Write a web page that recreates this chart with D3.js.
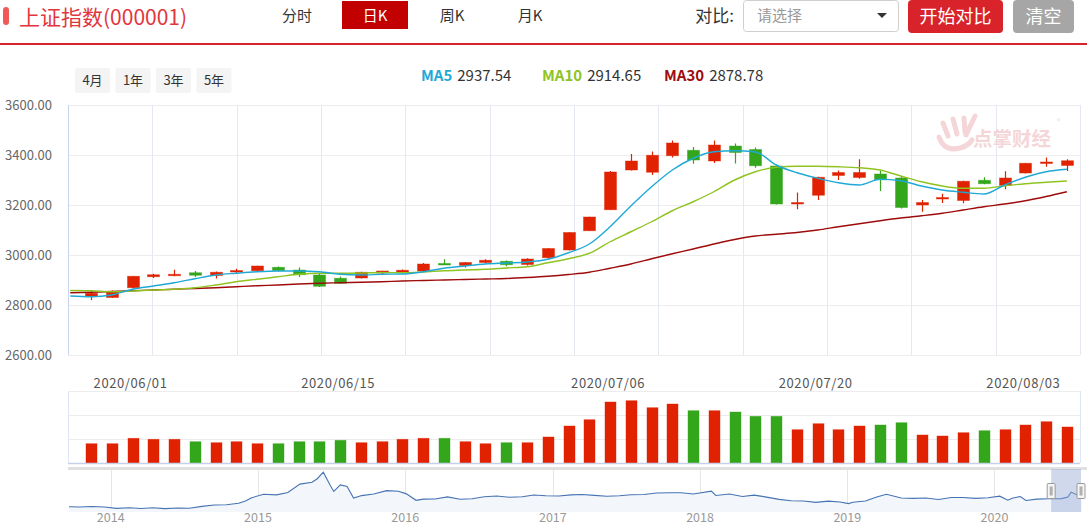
<!DOCTYPE html>
<html>
<head>
<meta charset="utf-8">
<script src="https://cdn.jsdelivr.net/npm/d3@7"></script>
<style>
body { margin: 0; background: #fff; }
svg { display: block; font-family: "Noto Sans CJK SC", "Noto Sans", sans-serif; }
</style>
</head>
<body>
<svg id="chart" width="1087" height="526"></svg>
<script>
// daily candles, 2020/05/28 - 2020/08/05
var dates = ['2020/05/28','2020/05/29','2020/06/01','2020/06/02','2020/06/03','2020/06/04','2020/06/05',
    '2020/06/08','2020/06/09','2020/06/10','2020/06/11','2020/06/12','2020/06/15','2020/06/16','2020/06/17',
    '2020/06/18','2020/06/19','2020/06/22','2020/06/23','2020/06/24','2020/06/29','2020/06/30','2020/07/01',
    '2020/07/02','2020/07/03','2020/07/06','2020/07/07','2020/07/08','2020/07/09','2020/07/10','2020/07/13',
    '2020/07/14','2020/07/15','2020/07/16','2020/07/17','2020/07/20','2020/07/21','2020/07/22','2020/07/23',
    '2020/07/24','2020/07/27','2020/07/28','2020/07/29','2020/07/30','2020/07/31','2020/08/03','2020/08/04',
    '2020/08/05'];
var opens  = [2836,2830,2869,2913,2917,2929,2918,2932,2937,2951,2940,2920,2907,2908,2928,2930,2936,2966,
    2958,2970,2975,2962,2989,3020,3097,3181,3340,3331,3397,3419,3376,3436,3422,3356,3206,3239,3318,3310,
    3324,3308,3200,3224,3218,3299,3278,3328,3368,3358];
var closes = [2847,2852,2915,2921,2923,2919,2931,2938,2956,2938,2921,2875,2887,2931,2936,2939,2964,2965,
    2970,2979,2961,2984,3026,3090,3152,3332,3376,3399,3448,3380,3440,3410,3357,3204,3210,3311,3330,3330,
    3301,3190,3210,3230,3295,3285,3308,3367,3372,3377];
var highs  = [2860,2858,2916,2925,2941,2936,2934,2945,2957,2954,2950,2924,2914,2933,2937,2942,2968,2983,
    2972,2983,2978,2987,3027,3091,3153,3336,3404,3414,3458,3432,3458,3446,3430,3362,3250,3313,3338,3383,
    3336,3312,3220,3245,3297,3311,3335,3368,3390,3383];
var lows   = [2820,2828,2866,2908,2915,2912,2906,2927,2934,2934,2912,2872,2885,2906,2921,2926,2935,2963,
    2950,2966,2955,2958,2985,3018,3096,3180,3338,3320,3390,3365,3368,3366,3349,3202,3183,3220,3300,3305,
    3256,3186,3173,3208,3207,3283,3263,3326,3353,3336];
// volume, 亿股
var volumes = [1.93,1.93,2.47,2.37,2.37,2.13,2.03,2.13,1.93,1.93,2.13,2.13,2.27,2.03,2.13,2.37,2.47,2.47,
    2.13,1.93,2.03,2.03,2.60,3.70,4.33,6.10,6.23,5.53,5.90,5.23,5.23,5.10,4.67,4.67,3.33,3.93,3.33,3.70,
    3.80,4.03,2.80,2.70,3.03,3.23,3.33,3.80,4.13,3.60];

// moving averages; first value belongs to 2020/05/27, just left of the window
var leadDate = '2020/05/27';
var ma5  = [2836,2833,2840,2863,2876,2889,2905,2920,2927,2933,2936,2936,2933,2923,2920,2923,2924,2933,2947,
    2956,2964,2968,2972,2983,3009,3044,3113,3196,3273,3340,3387,3413,3417,3412,3360,3329,3307,3289,3280,
    3303,3297,3276,3260,3251,3244,3280,3311,3333,3343];
var ma10 = [2858,2857,2853,2856,2860,2863,2869,2880,2893,2903,2913,2923,2927,2927,2928,2930,2929,2932,2937,
    2940,2943,2948,2953,2969,2985,3007,3053,3093,3133,3177,3213,3253,3300,3333,3351,3355,3355,3353,3349,
    3340,3316,3293,3276,3267,3267,3277,3285,3291,3296];
var ma30 = [2849,2851,2854,2857,2860,2863,2866,2869,2873,2877,2880,2884,2887,2889,2891,2893,2896,2898,2900,
    2902,2904,2906,2910,2915,2922,2931,2947,2964,2985,3005,3024,3044,3062,3076,3083,3090,3100,3113,3125,
    3137,3148,3157,3167,3180,3193,3204,3217,3234,3253];

var priceTicks = [2600, 2800, 3000, 3200, 3400, 3600];
var volTicks = [2.4, 4.8, 7.2];
var dateLabels = ['2020/06/01', '2020/06/15', '2020/07/06', '2020/07/20', '2020/08/03'];
var legend = [
    {name: 'MA5', value: '2937.54', color: '#1fa9d6'},
    {name: 'MA10', value: '2914.65', color: '#8fc31f'},
    {name: 'MA30', value: '2878.78', color: '#9e0b0b'}
];

// overview line for the navigator (index level)
var navDates = ['2013-09-17','2013-10-15','2013-11-15','2013-12-16','2014-01-15','2014-02-17','2014-03-17',
    '2014-04-15','2014-05-15','2014-06-16','2014-07-15','2014-08-15','2014-09-15','2014-10-15','2014-11-14',
    '2014-12-01','2014-12-15','2015-01-15','2015-02-16','2015-03-16','2015-04-15','2015-05-15','2015-05-28',
    '2015-06-12','2015-06-29','2015-07-08','2015-07-24','2015-08-10','2015-08-26','2015-09-15','2015-10-15',
    '2015-11-16','2015-12-15','2016-01-04','2016-01-28','2016-02-15','2016-03-15','2016-04-15','2016-05-16',
    '2016-06-15','2016-07-15','2016-08-15','2016-09-15','2016-10-17','2016-11-15','2016-12-15','2017-01-16',
    '2017-02-15','2017-03-15','2017-04-14','2017-05-15','2017-06-15','2017-07-14','2017-08-15','2017-09-15',
    '2017-10-16','2017-11-15','2017-12-15','2018-01-29','2018-02-09','2018-03-15','2018-04-16','2018-05-15',
    '2018-06-15','2018-07-16','2018-08-15','2018-09-14','2018-10-15','2018-11-15','2018-12-14','2019-01-04',
    '2019-01-15','2019-02-15','2019-03-15','2019-04-08','2019-05-15','2019-06-14','2019-07-15','2019-08-15',
    '2019-09-16','2019-10-15','2019-11-15','2019-12-16','2020-01-14','2020-02-03','2020-02-14','2020-03-05',
    '2020-03-19','2020-04-15','2020-05-15','2020-06-15','2020-07-01','2020-07-09','2020-07-24','2020-08-05'];
var navValues = [2190,2160,2200,2160,2040,2100,2030,2100,2020,2070,2060,2220,2330,2360,2480,2680,2950,3270,3210,
    3420,4140,4300,4610,5170,4050,3510,4070,3930,2930,3150,3290,3580,3520,3300,2740,2840,2860,3040,2830,2880,
    3050,3120,3010,3050,3200,3140,3110,3210,3240,3170,3090,3130,3220,3250,3370,3390,3400,3290,3530,3160,3290,
    3070,3190,3020,2820,2700,2680,2560,2670,2590,2460,2570,2680,3020,3260,2940,2910,2940,2810,2980,2990,2910,
    2960,3100,2750,2920,3070,2730,2840,2880,2890,3020,3450,3200,3378];
var yearTicks = ['2014', '2015', '2016', '2017', '2018', '2019', '2020'];

var red = '#e02200', green = '#33a61b';
var svg = d3.select('#chart');
var plot = {left: 68, right: 1080, top: 105, bottom: 355};
var vol = {top: 391, bottom: 463};
var nav = {top: 469, bottom: 512};

// ---------- header ----------
var head = svg.append('g');
head.append('rect').attr('x', 3).attr('y', 7).attr('width', 6).attr('height', 18).attr('rx', 3)
    .attr('fill', '#f05a5a');
head.append('text').attr('x', 19).attr('y', 25).attr('font-size', 21).attr('fill', '#e2363d')
    .text('上证指数(000001)');
head.append('rect').attr('x', 342).attr('y', 1).attr('width', 66).attr('height', 28).attr('fill', '#c20000');
[['分时', 297, '#333'], ['日K', 375, '#fff'], ['周K', 452, '#333'], ['月K', 530, '#333']].forEach(function(t) {
    head.append('text').attr('x', t[1]).attr('y', 21).attr('text-anchor', 'middle')
        .attr('font-size', 15).attr('fill', t[2]).text(t[0]);
});
head.append('text').attr('x', 734).attr('y', 22).attr('text-anchor', 'end').attr('font-size', 17)
    .attr('fill', '#333').text('对比:');
head.append('rect').attr('x', 743.5).attr('y', 0.5).attr('width', 155).attr('height', 31).attr('rx', 3)
    .attr('fill', '#fff').attr('stroke', '#cfcfcf');
head.append('text').attr('x', 757).attr('y', 21).attr('font-size', 15).attr('fill', '#999').text('请选择');
head.append('path').attr('d', 'M877,13 L887,13 L882,18 Z').attr('fill', '#333');
head.append('rect').attr('x', 908).attr('y', 0).attr('width', 95).attr('height', 33).attr('rx', 4)
    .attr('fill', '#d9232b');
head.append('text').attr('x', 955.5).attr('y', 23).attr('text-anchor', 'middle').attr('font-size', 18)
    .attr('fill', '#fff').text('开始对比');
head.append('rect').attr('x', 1013).attr('y', 0).attr('width', 61).attr('height', 33).attr('rx', 4)
    .attr('fill', '#a6a6a6');
head.append('text').attr('x', 1043.5).attr('y', 23).attr('text-anchor', 'middle').attr('font-size', 18)
    .attr('fill', '#fff').text('清空');
head.append('rect').attr('x', 0).attr('y', 43).attr('width', 1087).attr('height', 2).attr('fill', '#d9232b');

// range buttons
['4月', '1年', '3年', '5年'].forEach(function(t, i) {
    var bx = 75 + i * 40.5;
    head.append('rect').attr('x', bx).attr('y', 68).attr('width', 35).attr('height', 25).attr('rx', 2)
        .attr('fill', '#f4f4f4');
    head.append('text').attr('x', bx + 17.5).attr('y', 85).attr('text-anchor', 'middle')
        .attr('font-size', 13).attr('fill', '#333').text(t);
});

// legend
var legX = [421, 542, 664];
legend.forEach(function(d, i) {
    var t = head.append('text').attr('x', legX[i]).attr('y', 81).attr('font-size', 15);
    t.append('tspan').attr('font-weight', 'bold').attr('fill', d.color).text(d.name);
    t.append('tspan').attr('dx', 5).attr('fill', '#333').text(d.value);
});

// ---------- scales ----------
var allDates = [leadDate].concat(dates);
var x = d3.scaleBand().domain(allDates).range([55.5, 1081.6]).padding(0.42);
var cx = function(d) { return x(d) + x.bandwidth() / 2; };
var y = d3.scaleLinear().domain([2600, 3600]).range([plot.bottom, plot.top]);
var yv = d3.scaleLinear().domain([0, 7.2]).range([vol.bottom, vol.top]);

// ---------- price grid ----------
var grid = svg.append('g');
grid.selectAll('line.h').data(priceTicks).enter().append('line')
    .attr('x1', plot.left).attr('x2', plot.right)
    .attr('y1', function(d) { return Math.round(y(d)) + 0.5; })
    .attr('y2', function(d) { return Math.round(y(d)) + 0.5; })
    .attr('stroke', '#ededed');
grid.selectAll('line.v').data(d3.range(13)).enter().append('line')
    .attr('x1', function(k) { return Math.round(plot.left + k * (plot.right - plot.left) / 12) + 0.5; })
    .attr('x2', function(k) { return Math.round(plot.left + k * (plot.right - plot.left) / 12) + 0.5; })
    .attr('y1', plot.top).attr('y2', plot.bottom)
    .attr('stroke', function(k) { return k == 0 ? '#c6d4ec' : '#e4e9f1'; });
grid.selectAll('text').data(priceTicks).enter().append('text')
    .attr('x', 52).attr('y', function(d) { return y(d) + 5; })
    .attr('text-anchor', 'end').attr('font-size', 13).attr('fill', '#666')
    .text(function(d) { return d.toFixed(2); });

svg.append('defs').append('clipPath').attr('id', 'clip')
    .append('rect').attr('x', plot.left).attr('y', plot.top - 5)
    .attr('width', plot.right - plot.left).attr('height', plot.bottom - plot.top + 10);

// watermark
var wm = svg.append('g').attr('fill', '#f5d6d8').attr('stroke', '#f5d6d8');
wm.append('path').attr('d', 'M943,123 L948,136 M953,119 L957,134 M964,118 L965,132 M975,116 L966,135')
    .attr('stroke-width', 5).attr('stroke-linecap', 'round').attr('fill', 'none');
wm.append('path').attr('d', 'M939,137 Q944,152 960,148 Q968,146 972,140')
    .attr('stroke-width', 5).attr('stroke-linecap', 'round').attr('fill', 'none');
wm.append('text').attr('x', 973).attr('y', 146).attr('font-size', 19.5).attr('font-weight', 'bold')
    .attr('stroke', 'none').text('点掌财经');
wm.append('text').attr('x', 1057).attr('y', 124).attr('font-size', 7).attr('stroke', 'none').text('®');

// ---------- candles ----------
var candles = d3.range(dates.length).map(function(i) {
    return {date: dates[i], o: opens[i], c: closes[i], h: highs[i], l: lows[i], v: volumes[i]};
});
var color = function(d) { return d.c >= d.o ? red : green; };
var body = svg.append('g').attr('clip-path', 'url(#clip)');
var cg = body.selectAll('g.candle').data(candles).enter().append('g').attr('class', 'candle');
cg.append('line')
    .attr('x1', function(d) { return Math.round(cx(d.date)) + 0.5; })
    .attr('x2', function(d) { return Math.round(cx(d.date)) + 0.5; })
    .attr('y1', function(d) { return y(d.h); })
    .attr('y2', function(d) { return y(d.l); })
    .attr('stroke', color).attr('stroke-width', 1.2);
cg.append('rect')
    .attr('x', function(d) { return Math.round(cx(d.date)) - 5.5; })
    .attr('width', 12)
    .attr('y', function(d) { return y(Math.max(d.o, d.c)); })
    .attr('height', function(d) { return Math.max(1.5, Math.abs(y(d.o) - y(d.c))); })
    .attr('fill', color).attr('stroke', color).attr('stroke-opacity', 0.55).attr('stroke-width', 0.8);

// ---------- moving averages ----------
var maLine = function(vals) {
    return d3.line()
        .x(function(d, i) { return cx(allDates[i]); })
        .y(function(d) { return y(d); })
        .curve(d3.curveMonotoneX)(vals);
};
[[ma30, legend[2].color], [ma10, legend[1].color], [ma5, legend[0].color]].forEach(function(m) {
    body.append('path').attr('d', maLine(m[0])).attr('fill', 'none')
        .attr('stroke', m[1]).attr('stroke-width', 1.4);
});

// ---------- date labels ----------
svg.selectAll('text.date').data(dateLabels).enter().append('text').attr('class', 'date')
    .attr('x', function(d) { return cx(d) - 2; }).attr('y', 388)
    .attr('text-anchor', 'middle').attr('font-size', 13).attr('fill', '#555')
    .attr('letter-spacing', 0.6).text(function(d) { return d; });

// ---------- volume ----------
var vg = svg.append('g');
volTicks.forEach(function(t) {
    vg.append('line').attr('x1', plot.left).attr('x2', plot.right)
        .attr('y1', Math.round(yv(t)) + 0.5).attr('y2', Math.round(yv(t)) + 0.5).attr('stroke', '#ececec');
});
vg.append('line').attr('x1', plot.left + 0.5).attr('x2', plot.left + 0.5).attr('y1', vol.top).attr('y2', vol.bottom)
    .attr('stroke', '#dfe6f1');
vg.append('line').attr('x1', plot.right + 0.5).attr('x2', plot.right + 0.5).attr('y1', vol.top).attr('y2', vol.bottom)
    .attr('stroke', '#dfe6f1');
vg.selectAll('rect').data(candles).enter().append('rect')
    .attr('x', function(d) { return Math.round(cx(d.date)) - 5; })
    .attr('width', 11)
    .attr('y', function(d) { return yv(d.v); })
    .attr('height', function(d) { return yv(0) - yv(d.v); })
    .attr('fill', color).attr('stroke', color).attr('stroke-opacity', 0.5).attr('stroke-width', 0.8);
vg.append('line').attr('x1', plot.left).attr('x2', plot.right)
    .attr('y1', vol.bottom + 0.5).attr('y2', vol.bottom + 0.5).attr('stroke', '#c5d1e8').attr('stroke-width', 1.5);

// ---------- navigator ----------
var parse = d3.timeParse('%Y-%m-%d');
var nx = d3.scaleTime().domain([parse('2013-09-17'), parse('2020-07-31')]).range([plot.left, plot.right]);
var ny = d3.scaleLinear().domain([1730, 5450]).range([nav.bottom, nav.top]);
var navData = navDates.map(function(d, i) { return {t: parse(d), v: navValues[i]}; });

svg.append('defs').append('clipPath').attr('id', 'navclip')
    .append('rect').attr('x', plot.left + 1).attr('y', nav.top)
    .attr('width', 1081 - plot.left).attr('height', nav.bottom - nav.top);

var ng = svg.append('g');
ng.append('rect').attr('x', plot.left).attr('y', nav.top - 2).attr('width', 1087 - plot.left).attr('height', 3)
    .attr('fill', '#e0e0e0');
ng.selectAll('line.year').data(yearTicks).enter().append('line')
    .attr('x1', function(d) { return Math.round(nx(parse(d + '-01-01'))) + 0.5; })
    .attr('x2', function(d) { return Math.round(nx(parse(d + '-01-01'))) + 0.5; })
    .attr('y1', nav.top + 1).attr('y2', nav.bottom).attr('stroke', '#e6e6e6');
var nclip = ng.append('g').attr('clip-path', 'url(#navclip)');
nclip.append('path')
    .attr('d', d3.area().x(function(d) { return nx(d.t); }).y0(nav.bottom).y1(function(d) { return ny(d.v); })(navData))
    .attr('fill', '#f3f6fb');
nclip.append('path')
    .attr('d', d3.line().x(function(d) { return nx(d.t); }).y(function(d) { return ny(d.v); })(navData))
    .attr('fill', 'none').attr('stroke', '#4673b3').attr('stroke-width', 1.1);
ng.selectAll('text.year').data(yearTicks).enter().append('text')
    .attr('x', function(d) { return nx(parse(d + '-01-01')); }).attr('y', 522)
    .attr('text-anchor', 'middle').attr('font-size', 12.5).attr('fill', '#999')
    .text(function(d) { return d; });

// selected window
var selL = nx(parse(dates[0].replace(/\//g, '-'))) - 3;
var selR = 1081;
ng.append('rect').attr('x', selL).attr('y', nav.top).attr('width', selR - selL).attr('height', nav.bottom - nav.top)
    .attr('fill', '#8fa3d2').attr('fill-opacity', 0.42);
[selL, selR].forEach(function(hx) {
    ng.append('rect').attr('x', hx - 4).attr('y', 483.5).attr('width', 8).attr('height', 15).attr('rx', 1)
        .attr('fill', '#f5f5f5').attr('stroke', '#999');
    ng.append('rect').attr('x', hx - 1.5).attr('y', 486.5).attr('width', 3).attr('height', 9).attr('fill', '#b0b0b0');
});
</script>
</body>
</html>
